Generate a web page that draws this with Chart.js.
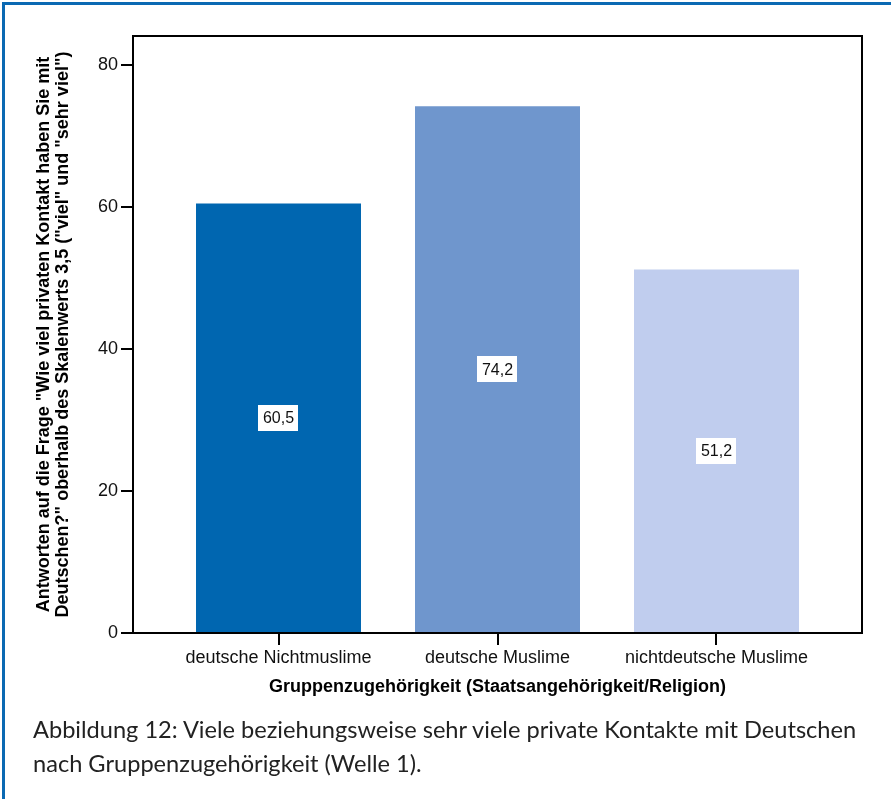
<!DOCTYPE html>
<html>
<head>
<meta charset="utf-8">
<script src="https://cdn.jsdelivr.net/npm/chart.js@4.4.1/dist/chart.umd.min.js"></script>
<style>
    body { margin: 0; background: #fff; }
    #seite { position: relative; width: 891px; height: 799px; overflow: hidden; }
    #rahmen { position: absolute; left: 2px; top: 2px; width: 889px; height: 797px;
              border-top: 3px solid #0a69b3; border-left: 3px solid #0a69b3; box-sizing: border-box; }
    #diagramm { position: absolute; left: 0; top: 0; width: 891px; height: 705px; }
    #unterschrift { position: absolute; left: 33px; top: 712px; font-family: Lato, "Noto Sans", sans-serif;
                    font-size: 23.6px; line-height: 34px; color: #222; white-space: nowrap; }
</style>
</head>
<body>
<div id="seite">
    <div id="diagramm"><canvas id="balkenChart" width="891" height="705"></canvas></div>
    <div id="rahmen"></div>
    <div id="unterschrift">Abbildung 12: Viele beziehungsweise sehr viele private Kontakte mit Deutschen<br>nach Gruppenzugehörigkeit (Welle 1).</div>
</div>
<script>
const gruppen = ['deutsche Nichtmuslime', 'deutsche Muslime', 'nichtdeutsche Muslime'];
const anteile = [60.5, 74.2, 51.2];
const beschriftungen = ['60,5', '74,2', '51,2'];
const yTicks = [0, 20, 40, 60, 80];
const farben = ['#0066b0', '#6f96cd', '#c0cdee'];

const schrift = 'Arial, "Liberation Sans", sans-serif';

// Rahmen oben und rechts um die Zeichenfläche
const rahmenPlugin = {
    id: 'rahmen',
    afterDraw(chart) {
        const a = chart.chartArea;
        const ctx = chart.ctx;
        ctx.save();
        ctx.strokeStyle = '#000';
        ctx.lineWidth = 2;
        ctx.beginPath();
        ctx.moveTo(a.left, a.top);
        ctx.lineTo(a.right, a.top);
        ctx.lineTo(a.right, a.bottom);
        ctx.stroke();
        ctx.restore();
    }
};

// Wertelabels in weißen Kästchen in der Balkenmitte
const wertPlugin = {
    id: 'werte',
    afterDatasetsDraw(chart) {
        const ctx = chart.ctx;
        const meta = chart.getDatasetMeta(0);
        ctx.save();
        ctx.font = '16px ' + schrift;
        ctx.textAlign = 'center';
        ctx.textBaseline = 'middle';
        meta.data.forEach((bar, i) => {
            const text = beschriftungen[i];
            const x = bar.x;
            const y = (bar.y + bar.base) / 2;
            const w = ctx.measureText(text).width + 9;
            const h = 26;
            ctx.fillStyle = '#fff';
            ctx.fillRect(Math.round(x - w / 2), Math.round(y - h / 2), Math.round(w), h);
            ctx.fillStyle = '#111';
            ctx.fillText(text, x, y + 1);
        });
        ctx.restore();
    }
};

const ctx = document.getElementById('balkenChart').getContext('2d');

new Chart(ctx, {
    type: 'bar',
    data: {
        datasets: [{
            label: 'Anteil',
            data: anteile.map((v, i) => ({ x: i, y: v })),
            backgroundColor: farben,
            borderWidth: 0,
            barPercentage: 0.7534,
            categoryPercentage: 1
        }]
    },
    options: {
        responsive: false,
        animation: false,
        layout: { padding: { top: 36, right: 29, bottom: 0, left: 0 } },
        plugins: {
            legend: { display: false },
            tooltip: { enabled: false }
        },
        scales: {
            x: {
                type: 'linear',
                offset: false,
                min: -0.6644,
                max: 2.6644,
                afterBuildTicks: s => { s.ticks = s.ticks.filter(t => Number.isInteger(t.value) && t.value >= 0 && t.value < gruppen.length); },
                afterFit: s => { s.height = 72; },
                grid: { display: true, offset: false, drawOnChartArea: false, drawTicks: true, tickLength: 12, color: '#000', lineWidth: 2 },
                border: { display: true, color: '#000', width: 2 },
                ticks: {
                    stepSize: 1,
                    autoSkip: false,
                    maxRotation: 0,
                    padding: 2,
                    color: '#111',
                    font: { family: schrift, size: 18 },
                    callback: v => gruppen[v]
                },
                title: {
                    display: true,
                    text: 'Gruppenzugehörigkeit (Staatsangehörigkeit/Religion)',
                    color: '#000',
                    font: { family: schrift, size: 18, weight: 'bold' },
                    padding: { top: 0, bottom: 7 }
                }
            },
            y: {
                min: 0,
                max: 84.1,
                afterBuildTicks: s => { s.ticks = yTicks.map(v => ({ value: v })); },
                afterFit: s => { s.width = 133; },
                grid: { display: true, drawOnChartArea: false, drawTicks: true, tickLength: 12, color: '#000', lineWidth: 2 },
                border: { display: true, color: '#000', width: 2 },
                ticks: {
                    padding: 3,
                    color: '#111',
                    font: { family: schrift, size: 18 }
                },
                title: {
                    display: true,
                    text: ['Antworten auf die Frage "Wie viel privaten Kontakt haben Sie mit',
                           'Deutschen?" oberhalb des Skalenwerts 3,5 ("viel" und "sehr viel")'],
                    color: '#000',
                    font: { family: schrift, size: 18, weight: 'bold', lineHeight: 1.06 },
                    padding: { top: 34, bottom: 0 }
                }
            }
        }
    },
    plugins: [rahmenPlugin, wertPlugin]
});
</script>
</body>
</html>
